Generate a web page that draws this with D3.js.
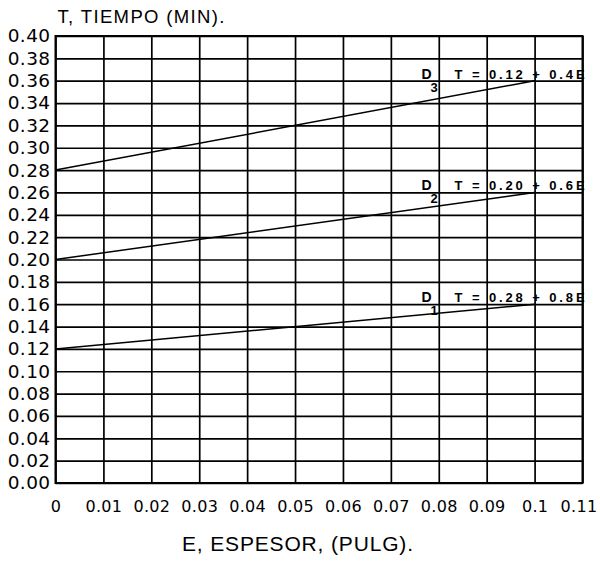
<!DOCTYPE html>
<html>
<head>
<meta charset="utf-8">
<script src="https://cdn.jsdelivr.net/npm/d3@7"></script>
<style>
  body { margin: 0; background: #fff; }
  svg { display: block; }
</style>
</head>
<body>
<svg id="chart" width="600" height="563"></svg>
<script>
"use strict";

// values
const xTicks = [0, 0.01, 0.02, 0.03, 0.04, 0.05, 0.06, 0.07, 0.08, 0.09, 0.10, 0.11];
const xLabels = ["0", "0.01", "0.02", "0.03", "0.04", "0.05", "0.06", "0.07", "0.08", "0.09", "0.1", "0.11"];
const yTicks = d3.range(0, 21).map(i => +(i * 0.02).toFixed(2));
const yLabels = yTicks.map(d => d.toFixed(2));

const seriesNames = ["1", "2", "3"];          // D subscripts
const equations = ["T = 0.28 + 0.8E", "T = 0.20 + 0.6E", "T = 0.12 + 0.4E"];
const eStart = [0, 0, 0];
const eEnd = [0.10, 0.10, 0.10];
const tStart = [0.12, 0.20, 0.28];
const tEnd = [0.16, 0.26, 0.36];

const xTitle = "E, ESPESOR, (PULG).";
const yTitle = "T, TIEMPO (MIN).";

(() => {
	const svg = d3.select("#chart");
	const m = { left: 55.5, right: 582.5, top: 36, bottom: 483 };

	const x = d3.scaleLinear().domain([0, 0.11]).range([m.left, m.right]);
	const y = d3.scaleLinear().domain([0, 0.40]).range([m.bottom, m.top]);

	// grid + tick labels through the axes
	const gx = svg.append("g")
		.attr("transform", `translate(0,${m.bottom})`)
		.call(d3.axisBottom(x)
			.tickValues(xTicks)
			.tickFormat((d, i) => xLabels[i])
			.tickSize(-(m.bottom - m.top))
			.tickPadding(18));

	const gy = svg.append("g")
		.attr("transform", `translate(${m.left},0)`)
		.call(d3.axisLeft(y)
			.tickValues(yTicks)
			.tickFormat((d, i) => yLabels[i])
			.tickSize(-(m.right - m.left))
			.tickPadding(5));

	[gx, gy].forEach(g => {
		g.select(".domain").remove();
		g.selectAll(".tick line").attr("stroke", "#000").attr("stroke-width", 1.7);
		g.selectAll(".tick text")
			.attr("fill", "#000")
			.attr("font-family", "'DejaVu Sans', sans-serif");
	});
	gx.selectAll(".tick text").attr("font-size", 16).attr("letter-spacing", 0.3);
	// last label sits right on the edge, nudge it in a bit
	gx.selectAll(".tick text").filter((d, i) => i === xTicks.length - 1).attr("dx", -4);
	gy.selectAll(".tick text").attr("font-size", 18.5).attr("letter-spacing", 0.4);

	// frame
	svg.append("rect")
		.attr("x", m.left).attr("y", m.top)
		.attr("width", m.right - m.left).attr("height", m.bottom - m.top)
		.attr("fill", "none").attr("stroke", "#000").attr("stroke-width", 2);

	// the three lines
	const rows = seriesNames.map((s, i) => ({
		sub: s, eq: equations[i],
		e0: eStart[i], e1: eEnd[i], t0: tStart[i], t1: tEnd[i]
	}));

	svg.selectAll("line.serie")
		.data(rows).enter()
		.append("line")
		.attr("class", "serie")
		.attr("x1", d => x(d.e0)).attr("y1", d => y(d.t0))
		.attr("x2", d => x(d.e1)).attr("y2", d => y(d.t1))
		.attr("stroke", "#000")
		.attr("stroke-width", 1.5);

	// labels, anchored on the end of each line
	const lab = svg.selectAll("g.lab")
		.data(rows).enter()
		.append("g")
		.attr("class", "lab")
		.attr("font-family", "'Liberation Sans', Arial, sans-serif")
		.attr("font-weight", "bold")
		.attr("fill", "#000");

	lab.append("text")
		.attr("x", d => x(d.e1) - 113)
		.attr("y", d => y(d.t1) - 2)
		.attr("font-size", 14)
		.text("D");
	lab.append("text")
		.attr("x", d => x(d.e1) - 104)
		.attr("y", d => y(d.t1) + 11)
		.attr("font-size", 13)
		.text(d => d.sub);
	lab.append("text")
		.attr("x", d => x(d.e1) - 80)
		.attr("y", d => y(d.t1) - 2)
		.attr("font-size", 13)
		.attr("textLength", 130)
		.attr("lengthAdjust", "spacing")
		.text(d => d.eq);

	// titles
	svg.append("text")
		.attr("x", m.left + 2).attr("y", 23)
		.attr("font-family", "'Liberation Sans', Arial, sans-serif")
		.attr("font-size", 18.5)
		.attr("textLength", 167)
		.attr("lengthAdjust", "spacing")
		.text(yTitle);

	svg.append("text")
		.attr("x", 182).attr("y", 551)
		.attr("font-family", "'Liberation Sans', Arial, sans-serif")
		.attr("font-size", 21)
		.attr("textLength", 231)
		.attr("lengthAdjust", "spacing")
		.text(xTitle);
})();
</script>
</body>
</html>
